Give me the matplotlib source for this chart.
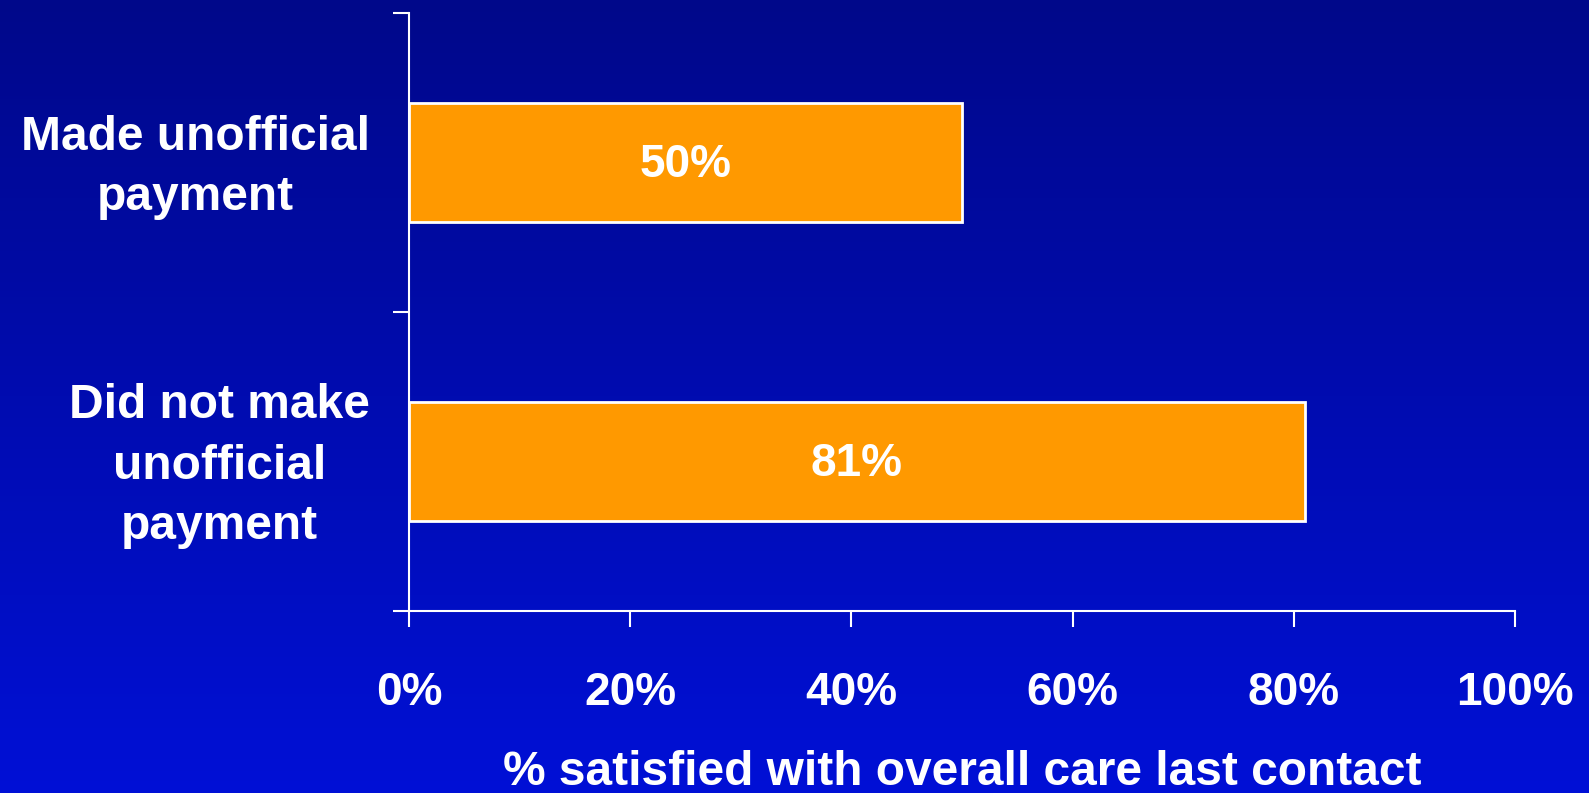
import numpy as np
import matplotlib
matplotlib.use("Agg")
import matplotlib.pyplot as plt
from matplotlib.ticker import FixedLocator, PercentFormatter
from matplotlib.transforms import ScaledTranslation

# Data
categories = ["Made unofficial\npayment", "Did not make\nunofficial\npayment"]
satisfied_pct = [50, 81]
x_ticks = [0, 20, 40, 60, 80, 100]
x_label = "% satisfied with overall care last contact"

plt.rcParams["font.family"] = ["Liberation Sans", "DejaVu Sans"]
plt.rcParams["font.weight"] = "bold"

W, H, DPI = 1589, 793, 100
fig = plt.figure(figsize=(W / DPI, H / DPI), dpi=DPI)

# Vertical blue gradient background
bg = fig.add_axes([0, 0, 1, 1], zorder=-10)
top_c = np.array([0, 8, 138]) / 255
bot_c = np.array([0, 16, 214]) / 255
t = np.linspace(0, 1, 256)[:, None]
grad = (top_c[None, :] * (1 - t) + bot_c[None, :] * t)[:, None, :]
bg.imshow(grad, aspect="auto", extent=[0, 1, 0, 1], origin="upper")
bg.set_axis_off()

ax = fig.add_axes([409 / W, 1 - 611 / H, (1515 - 409) / W, (611 - 13) / H])
ax.patch.set_alpha(0)

fs = 34.5
fs_tick = 33
white = "white"
y = np.arange(len(categories))
ax.barh(y, satisfied_pct, height=0.40, color="#FF9900",
        edgecolor=white, linewidth=2)

for yi, v in zip(y, satisfied_pct):
    ax.text(v / 2, yi + 0.01, f"{v}%", ha="center", va="center",
            color=white, fontsize=fs_tick, fontweight="bold")

ax.set_xlim(0, 100)
ax.set_ylim(len(categories) - 0.5, -0.5)

# x axis
ax.set_xticks(x_ticks)
ax.xaxis.set_major_formatter(PercentFormatter(decimals=0))
ax.tick_params(axis="x", direction="out", length=11.5, width=1.5,
               colors=white, labelsize=fs_tick, pad=32)
for lab in ax.get_xticklabels():
    lab.set_fontweight("bold")
ax.set_xlabel(x_label, color=white, fontsize=fs, fontweight="bold",
              labelpad=25)

# y axis: ticks on category boundaries, labels at centres
ax.yaxis.set_major_locator(FixedLocator([-0.5, 0.5, 1.5]))
ax.yaxis.set_major_formatter(plt.NullFormatter())
ax.yaxis.set_minor_locator(FixedLocator(list(y)))
ax.set_yticklabels(categories, minor=True)
ax.tick_params(axis="y", which="major", direction="out", length=11.5,
               width=1.5, colors=white)
ax.tick_params(axis="y", which="minor", length=0, labelsize=fs,
               labelcolor=white, pad=28)
lift = ScaledTranslation(0, 8 / DPI, fig.dpi_scale_trans)
for lab in ax.get_yticklabels(minor=True):
    lab.set_fontweight("bold")
    lab.set_multialignment("center")
    lab.set_linespacing(1.44)
    lab.set_transform(lab.get_transform() + lift)

for s in ["top", "right"]:
    ax.spines[s].set_visible(False)
for s in ["left", "bottom"]:
    ax.spines[s].set_color(white)
    ax.spines[s].set_linewidth(1.5)

fig.savefig("out.png", dpi=DPI)
